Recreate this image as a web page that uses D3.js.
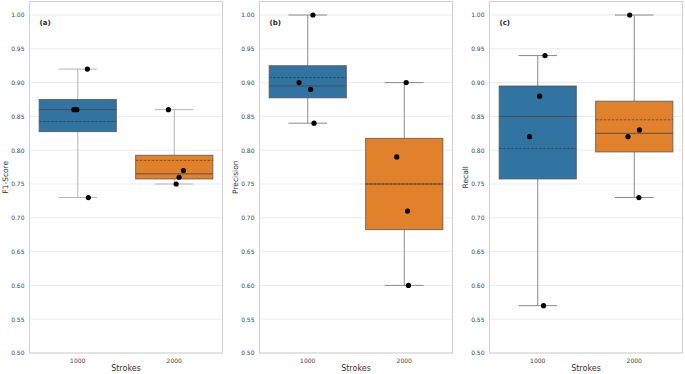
<!DOCTYPE html>
<html>
<head>
<meta charset="utf-8">
<script src="https://cdn.jsdelivr.net/npm/d3@7"></script>
<style>
  body { margin: 0; background: #fff; }
  svg text { font-family: "DejaVu Sans", sans-serif; }
</style>
</head>
<body>
<div id="chart"></div>
<script>
// Box plots of F1 / Precision / Recall by number of strokes

const categories = ["1000", "2000"];
const panelTags = ["(a)", "(b)", "(c)"];
const yLabels = ["F1-Score", "Precision", "Recall"];
const yTicks = [0.50, 0.55, 0.60, 0.65, 0.70, 0.75, 0.80, 0.85, 0.90, 0.95, 1.00];

// per-run scores, [1000 strokes, 2000 strokes]
const f1Values = [[0.92, 0.86, 0.86, 0.73], [0.86, 0.77, 0.76, 0.75]];
const precisionValues = [[1.00, 0.90, 0.89, 0.84], [0.90, 0.79, 0.71, 0.60]];
const recallValues = [[0.94, 0.88, 0.82, 0.57], [1.00, 0.83, 0.82, 0.73]];

// strip-plot jitter (category units)
const f1Jitter = [[0.10, -0.04, -0.01, 0.11], [-0.06, 0.095, 0.05, 0.02]];
const precisionJitter = [[0.054, -0.09, 0.03, 0.065], [0.02, -0.078, 0.034, 0.044]];
const recallJitter = [[0.075, 0.02, -0.085, 0.06], [-0.047, 0.054, -0.065, 0.048]];

const panels = [
    {tag: panelTags[0], label: yLabels[0], values: f1Values, jitter: f1Jitter, left: 29.5, whisker: "#b4b4b4"},
    {tag: panelTags[1], label: yLabels[1], values: precisionValues, jitter: precisionJitter, left: 259.5, whisker: "#8a8a8a"},
    {tag: panelTags[2], label: yLabels[2], values: recallValues, jitter: recallJitter, left: 489.5, whisker: "#8a8a8a"}
];

const colors = ["#3274a1", "#e1812c"];
const width = 685, height = 374;
const plotW = 193, plotTop = 1.5, plotBottom = 353;

const svg = d3.select("#chart").append("svg")
    .attr("width", width)
    .attr("height", height);

const y = d3.scaleLinear().domain([0.5, 1.02]).range([plotBottom, plotTop]);

panels.forEach(p => {
    const g = svg.append("g").attr("transform", `translate(${p.left},0)`);

    const x = d3.scaleBand().domain(categories).range([0, plotW]).paddingInner(0).paddingOuter(0);
    const cx = c => x(c) + x.bandwidth() / 2;
    const unit = x.bandwidth();
    const boxW = unit * 0.8;

    // grid
    g.selectAll(".grid")
        .data(yTicks)
        .enter().append("line")
        .attr("x1", 0).attr("x2", plotW)
        .attr("y1", d => y(d)).attr("y2", d => y(d))
        .attr("stroke", "#ebebeb").attr("stroke-width", 1);

    // y axis
    const yAxis = d3.axisLeft(y).tickValues(yTicks).tickFormat(d3.format(".2f")).tickSize(0).tickPadding(5);
    const ya = g.append("g").call(yAxis);
    ya.select(".domain").remove();
    ya.selectAll("text").attr("font-size", "6px").attr("fill", "#444");

    // x axis
    const xAxis = d3.axisBottom(x).tickSize(0).tickPadding(5.5);
    const xa = g.append("g").attr("transform", `translate(0,${plotBottom})`).call(xAxis);
    xa.select(".domain").remove();
    xa.selectAll("text").attr("font-size", "6px").attr("fill", "#444");

    g.append("text")
        .attr("x", plotW / 2).attr("y", 371)
        .attr("text-anchor", "middle")
        .attr("font-size", "8px").attr("fill", "#333")
        .text("Strokes");

    g.append("text")
        .attr("transform", `translate(-21.5,${(plotTop + plotBottom) / 2}) rotate(-90)`)
        .attr("text-anchor", "middle")
        .attr("font-size", "7.5px").attr("fill", "#333")
        .text(p.label);

    // boxes
    categories.forEach((c, i) => {
        const vals = p.values[i].slice().sort(d3.ascending);
        const q1 = d3.quantile(vals, 0.25);
        const med = d3.quantile(vals, 0.5);
        const q3 = d3.quantile(vals, 0.75);
        const lo = d3.min(vals), hi = d3.max(vals);
        const mean = d3.mean(vals);
        const c0 = cx(c);

        // whiskers
        [[q3, hi], [q1, lo]].forEach(([a, b]) => {
            g.append("line")
                .attr("x1", c0).attr("x2", c0)
                .attr("y1", y(a)).attr("y2", y(b))
                .attr("stroke", p.whisker).attr("stroke-width", 1);
        });
        [hi, lo].forEach(v => {
            g.append("line")
                .attr("x1", c0 - boxW / 4).attr("x2", c0 + boxW / 4)
                .attr("y1", y(v)).attr("y2", y(v))
                .attr("stroke", p.whisker).attr("stroke-width", 1);
        });

        g.append("rect")
            .attr("x", c0 - boxW / 2).attr("width", boxW)
            .attr("y", y(q3)).attr("height", y(q1) - y(q3))
            .attr("fill", colors[i])
            .attr("stroke", "#555").attr("stroke-opacity", 0.8).attr("stroke-width", 1);

        g.append("line")
            .attr("x1", c0 - boxW / 2).attr("x2", c0 + boxW / 2)
            .attr("y1", y(med)).attr("y2", y(med))
            .attr("stroke", "#444").attr("stroke-opacity", 0.8).attr("stroke-width", 1);

        g.append("line")
            .attr("x1", c0 - boxW / 2).attr("x2", c0 + boxW / 2)
            .attr("y1", y(mean)).attr("y2", y(mean))
            .attr("stroke", "#333").attr("stroke-opacity", 0.8).attr("stroke-width", 0.8)
            .attr("stroke-dasharray", "2.5,1.5");

        // points
        g.selectAll(`.pt${i}`)
            .data(p.values[i].map((v, k) => ({v, j: p.jitter[i][k]})))
            .enter().append("circle")
            .attr("cx", d => c0 + d.j * unit)
            .attr("cy", d => y(d.v))
            .attr("r", 2.6)
            .attr("fill", "#000");
    });

    // frame
    g.append("rect")
        .attr("x", 0).attr("y", plotTop)
        .attr("width", plotW).attr("height", plotBottom - plotTop)
        .attr("fill", "none")
        .attr("stroke", "#d0d0d0").attr("stroke-width", 1);

    g.append("text")
        .attr("x", 10).attr("y", 25)
        .attr("font-size", "7px").attr("font-weight", "bold").attr("fill", "#262626")
        .text(p.tag);
});
</script>
</body>
</html>
